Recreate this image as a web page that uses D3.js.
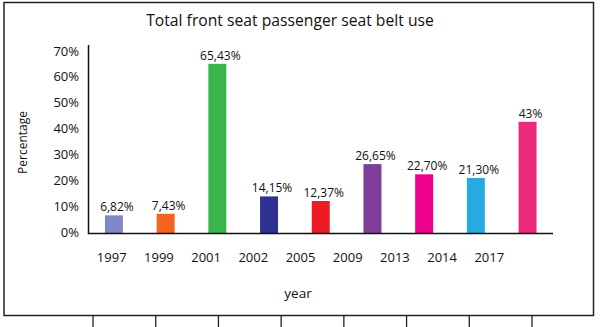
<!DOCTYPE html>
<html><head><meta charset="utf-8">
<script src="https://cdn.jsdelivr.net/npm/d3@7"></script>
<style>
html,body{margin:0;padding:0;background:#fff;}
svg{display:block;font-family:"Open Sans",sans-serif;}
</style></head>
<body><svg id="chart" width="600" height="327"></svg>
<script>
const title = "Total front seat passenger seat belt use";
const years = ["1997","1999","2001","2002","2005","2009","2013","2014","2017"];
const barKeys = ["b1","b2","b3","b4","b5","b6","b7","b8","b9"];
const values = [6.82, 7.43, 65.43, 14.15, 12.37, 26.65, 22.70, 21.30, 43];
const valueLabels = ["6,82%","7,43%","65,43%","14,15%","12,37%","26,65%","22,70%","21,30%","43%"];
const colors = ["#7f87c5","#f26522","#39b54a","#2e3192","#ed1c24","#7f3f98","#ec008c","#27aae1","#ee2a7b"];
const yTicks = [0,10,20,30,40,50,60,70];
const yLabel = "Percentage";
const xLabel = "year";

const svg = d3.select("#chart");
const fontSize = 13;

// frame
svg.append("rect").attr("x",4).attr("y",2.5).attr("width",589.5).attr("height",313)
  .attr("fill","none").attr("stroke","#222").attr("stroke-width",1.5);

// decorative ticks below frame
const bottomScale = d3.scaleLinear().domain([0,7]).range([93,532]);
svg.append("g").selectAll("line").data(d3.range(8)).join("line")
  .attr("x1",d=>bottomScale(d)).attr("x2",d=>bottomScale(d))
  .attr("y1",316).attr("y2",327).attr("stroke","#222").attr("stroke-width",1.3);

const y = d3.scaleLinear().domain([0,70]).range([233,52]);
const xBar = d3.scaleBand().domain(barKeys).range([88.5,553]).paddingInner(0.652).paddingOuter(0.318);
const xLab = d3.scalePoint().domain(years).range([111.7,489.3]);

// title
svg.append("text").attr("x",290).attr("y",26).attr("text-anchor","middle")
  .attr("font-size",15.7).attr("fill","#111").text(title);

// y ticks labels
svg.append("g").selectAll("text").data(yTicks).join("text")
  .attr("x",79).attr("y",d=>y(d)-1).attr("dy","0.35em").attr("text-anchor","end")
  .attr("font-size",fontSize).attr("fill","#111").text(d=>d+"%");

// bars
svg.append("g").selectAll("rect").data(values).join("rect")
  .attr("x",(d,i)=>xBar(barKeys[i])).attr("width",xBar.bandwidth())
  .attr("y",d=>y(d)).attr("height",d=>y(0)-y(d))
  .attr("fill",(d,i)=>colors[i]);

// value labels
svg.append("g").selectAll("text").data(values).join("text")
  .attr("x",(d,i)=>xBar(barKeys[i])+xBar.bandwidth()/2+3)
  .attr("y",d=>y(d)-4).attr("text-anchor","middle")
  .attr("font-size",12).attr("fill","#111").text((d,i)=>valueLabels[i]);

// axes lines
svg.append("line").attr("x1",88.5).attr("x2",88.5).attr("y1",45).attr("y2",234)
  .attr("stroke","#111").attr("stroke-width",1.5);
svg.append("line").attr("x1",88).attr("x2",553).attr("y1",233.5).attr("y2",233.5)
  .attr("stroke","#111").attr("stroke-width",1.5);

// x labels
svg.append("g").selectAll("text").data(years).join("text")
  .attr("x",d=>xLab(d)).attr("y",257).attr("dy","0.35em").attr("text-anchor","middle")
  .attr("font-size",fontSize).attr("fill","#111").text(d=>d);

svg.append("text").attr("x",298).attr("y",293).attr("dy","0.35em").attr("text-anchor","middle")
  .attr("font-size",13.5).attr("fill","#111").text(xLabel);

svg.append("text").attr("transform","translate(23,142.5) rotate(-90)")
  .attr("dy","0.35em").attr("text-anchor","middle")
  .attr("font-size",12).attr("fill","#111").text(yLabel);
</script></body></html>
